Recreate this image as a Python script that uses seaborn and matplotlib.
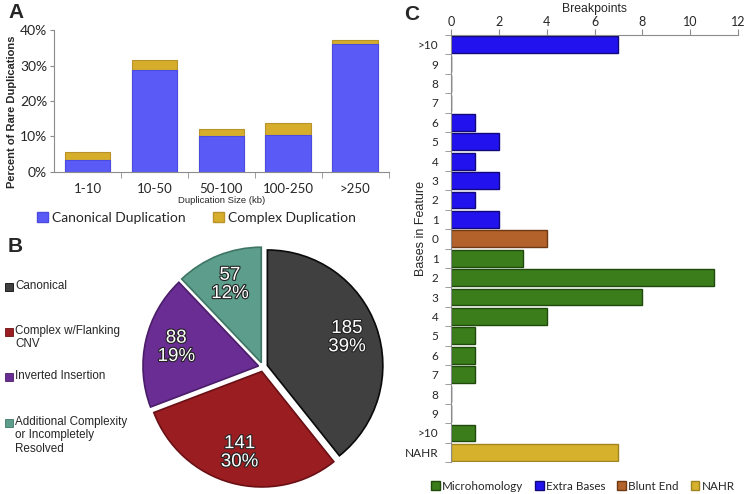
import numpy as np
import pandas as pd
import seaborn as sns
import matplotlib.pyplot as plt
import matplotlib.patheffects as pe
from matplotlib.patches import Patch, Rectangle
from matplotlib.ticker import FuncFormatter, FixedLocator

# ---- data ----
size_bins = ["1-10", "10-50", "50-100", "100-250", ">250"]
canonical_pct = [3.5, 28.8, 10.0, 10.5, 36.2]
complex_pct = [2.0, 2.9, 2.1, 3.3, 0.9]

pie_labels = ["Canonical", "Complex w/Flanking\nCNV", "Inverted Insertion",
              "Additional Complexity\nor Incompletely\nResolved"]
pie_counts = [185, 141, 88, 57]

extra_labels = [">10", "9", "8", "7", "6", "5", "4", "3", "2", "1"]
extra_counts = [7, 0, 0, 0, 1, 2, 1, 2, 1, 2]
blunt_labels = ["0"]
blunt_counts = [4]
micro_labels = ["1", "2", "3", "4", "5", "6", "7", "8", "9", ">10"]
micro_counts = [3, 11, 8, 4, 1, 1, 1, 0, 0, 1]
nahr_labels = ["NAHR"]
nahr_counts = [7]

# ---- style ----
sns.set_style("white")
plt.rcParams['font.family'] = ['Liberation Sans', 'DejaVu Sans']
calibri = ['Lato', 'DejaVu Sans']
grey = '#8c8c8c'

fig = plt.figure(figsize=(7.45, 4.94), dpi=100)

# ---- panel A ----
blue_a, gold_a = '#5a5af7', '#d6ae2c'
axA = fig.add_axes([0.0725, 0.652, 0.449, 0.287])
df_a = pd.DataFrame({'bin': size_bins,
                     'canonical': canonical_pct,
                     'total': np.add(canonical_pct, complex_pct)})
sns.barplot(data=df_a, x='bin', y='total', color=gold_a, saturation=1,
            width=0.68, edgecolor='#b8922a', linewidth=0.8, ax=axA)
sns.barplot(data=df_a, x='bin', y='canonical', color=blue_a, saturation=1,
            width=0.68, edgecolor='#4b4be0', linewidth=0.8, ax=axA)
axA.set_ylim(0, 40)
axA.set_xlim(-0.5, 4.5)
axA.set_yticks([0, 10, 20, 30, 40])
axA.yaxis.set_major_formatter(FuncFormatter(lambda v, p: f"{v:.0f}%"))
axA.xaxis.set_minor_locator(FixedLocator([0.5, 1.5, 2.5, 3.5, 4.5]))
axA.tick_params(axis='x', which='major', length=0, labelsize=9.5, pad=8)
axA.tick_params(axis='x', which='minor', length=4, color=grey, direction='out', bottom=True)
axA.tick_params(axis='y', length=3, color=grey, direction='out', left=True, labelsize=10, pad=2)
for lab in axA.get_xticklabels() + axA.get_yticklabels():
    lab.set_family(calibri)
sns.despine(ax=axA)
for s in ['left', 'bottom']:
    axA.spines[s].set_color(grey)
    axA.spines[s].set_linewidth(0.8)
axA.set_xlabel("Duplication Size (kb)", fontsize=6.8, labelpad=1)
axA.set_ylabel("")
fig.text(0.016, 1 - 112 / 494, "Percent of Rare Duplications", rotation=90,
         fontsize=8, fontweight='bold', ha='center', va='center')
fig.legend(handles=[Patch(facecolor=blue_a, edgecolor='#4b4be0', label='Canonical Duplication'),
                    Patch(facecolor=gold_a, edgecolor='#b8922a', label='Complex Duplication')],
           loc='center', bbox_to_anchor=(0.264, 1 - 218 / 494), ncol=2, frameon=False,
           prop={'family': calibri, 'size': 10}, handlelength=0.75, handleheight=0.75,
           handletextpad=0.3, columnspacing=2.0, borderpad=0)

# ---- panel B ----
pie_colors = ['#404040', '#9a1d21', '#6a2d93', '#5c9e8b']
pie_edges = ['#0a0a0a', '#6a1014', '#4a1d6a', '#3f7565']
lim = 130 / 115.5
axB = fig.add_axes([(263 - 130) / 745, (494 - 367 - 130) / 494, 260 / 745, 260 / 494])
wedges, texts, autotexts = axB.pie(
    pie_counts, colors=pie_colors, startangle=90, counterclock=False,
    explode=[0.04] * 4, pctdistance=0.73,
    autopct=lambda p: f"{int(round(p * sum(pie_counts) / 100))}\n{int(round(p))}%",
    wedgeprops={'linewidth': 1.2},
    textprops={'color': 'white', 'fontsize': 13.5, 'linespacing': 1.1})
for w, ec in zip(wedges, pie_edges):
    w.set_edgecolor(ec)
for t in autotexts:
    t.set_path_effects([pe.withStroke(linewidth=1.6, foreground='#222222')])
axB.set_xlim(-lim, lim)
axB.set_ylim(-lim, lim)
axB.set_aspect('equal')
axB.axis('off')

leg_y = [287, 332, 377, 423]
for lab, col, ec, y in zip(pie_labels, pie_colors, pie_edges, leg_y):
    fig.patches.append(Rectangle((5 / 745, 1 - (y + 4) / 494), 8 / 745, 8 / 494,
                                 transform=fig.transFigure, facecolor=col,
                                 edgecolor=ec, linewidth=0.6))
    fig.text(15 / 745, 1 - (y - 7) / 494, lab, fontsize=8.4, va='top', ha='left',
             linespacing=1.15)

# ---- panel C ----
type_colors = {'Microhomology': '#3b7d1b', 'Extra Bases': '#2212ee',
               'Blunt End': '#b3622b', 'NAHR': '#d6b12c'}
type_edges = {'Microhomology': '#1f4a0c', 'Extra Bases': '#12087a',
              'Blunt End': '#6e3a15', 'NAHR': '#a08420'}
row_labels = extra_labels + blunt_labels + micro_labels + nahr_labels
row_counts = extra_counts + blunt_counts + micro_counts + nahr_counts
row_types = (['Extra Bases'] * len(extra_labels) + ['Blunt End'] * len(blunt_labels)
             + ['Microhomology'] * len(micro_labels) + ['NAHR'] * len(nahr_labels))
df_c = pd.DataFrame({'row': [f"r{i}" for i in range(len(row_labels))],
                     'count': row_counts, 'type': row_types})
axC = fig.add_axes([451 / 745, 1 - 462 / 494, 287 / 745, 427 / 494])
sns.barplot(data=df_c, x='count', y='row', hue='type', dodge=False, orient='h',
            palette=type_colors, saturation=1, width=0.86, linewidth=1.0,
            edgecolor='black', legend=False, ax=axC)
# darker edges per type
n = len(df_c)
for p in axC.patches:
    idx = int(round(p.get_y() + p.get_height() / 2))
    if 0 <= idx < n and p.get_width() > 0:
        p.set_edgecolor(type_edges[row_types[idx]])
axC.set_xlim(0, 12)
axC.set_ylim(n - 0.5, -0.5)
axC.xaxis.tick_top()
axC.xaxis.set_label_position('top')
axC.set_xticks([0, 2, 4, 6, 8, 10, 12])
axC.set_yticks(range(n))
axC.set_yticklabels(row_labels)
axC.yaxis.set_minor_locator(FixedLocator(np.arange(-0.5, n, 1.0)))
axC.tick_params(axis='y', which='major', length=0, labelsize=8.5, pad=9)
axC.tick_params(axis='y', which='minor', length=4, color=grey, left=True, direction='out')
axC.tick_params(axis='x', length=4, color=grey, direction='out', top=True, labelsize=9, pad=1)
for lab in axC.get_xticklabels() + axC.get_yticklabels():
    lab.set_family(calibri)
for s in ['right', 'bottom']:
    axC.spines[s].set_visible(False)
for s in ['left', 'top']:
    axC.spines[s].set_color(grey)
    axC.spines[s].set_linewidth(0.8)
axC.set_xlabel("Breakpoints", fontsize=8.8, labelpad=3)
axC.set_ylabel("")
fig.text(421 / 745, 1 - 228 / 494, "Bases in Feature", rotation=90, fontsize=9,
         ha='center', va='center')
fig.legend(handles=[Patch(facecolor=type_colors[k], edgecolor=type_edges[k], label=k)
                    for k in ['Microhomology', 'Extra Bases', 'Blunt End', 'NAHR']],
           loc='center', bbox_to_anchor=(583 / 745, 1 - 486 / 494), ncol=4, frameon=False,
           prop={'family': calibri, 'size': 8.4}, handlelength=0.75, handleheight=0.75,
           handletextpad=0.2, columnspacing=1.0, borderpad=0)

# ---- panel letters ----
for letter, x, y in [('A', 8, 12), ('B', 8, 246), ('C', 404, 15)]:
    fig.text(x / 745, 1 - y / 494, letter, fontsize=15, fontweight='bold',
             ha='left', va='center')

fig.savefig('out.png', dpi=100)
